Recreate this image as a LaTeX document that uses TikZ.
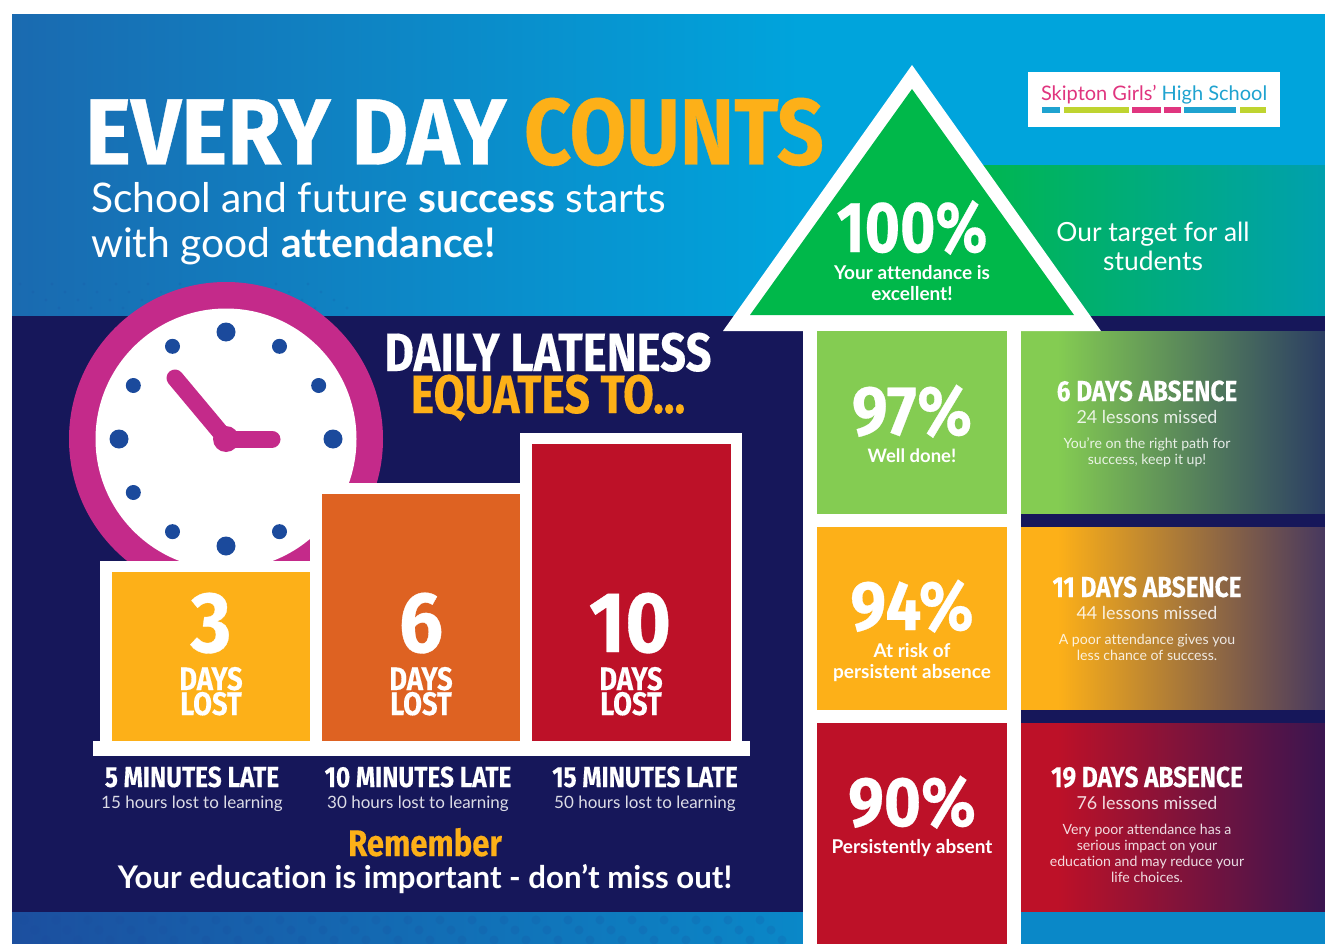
\documentclass[tikz,border=0pt]{standalone}
\usepackage{fontspec}
\setmainfont{Lato}[Ligatures=NoCommon]
\newfontfamily\condf[FakeStretch=0.84,BoldFeatures={FakeBold=0.25}]{Fira Sans}
\newfontfamily\widef[FakeStretch=0.91,BoldFeatures={FakeBold=0.4}]{Fira Sans}
\newcommand\fs[1]{\fontsize{#1}{#1}\selectfont}
\newcommand\cnd[1]{\condf\bfseries\fs{#1}}
\newcommand\wid[1]{\widef\bfseries\fs{#1}}
\definecolor{navy}{HTML}{16175A}
\definecolor{amber}{HTML}{FDB018}
\definecolor{crimson}{HTML}{BD1128}
\definecolor{burnt}{HTML}{DE6222}
\definecolor{lime}{HTML}{84CC52}
\definecolor{gr}{HTML}{00B84A}
\definecolor{pinkc}{HTML}{C42A8A}
\definecolor{dotb}{HTML}{1B4A9C}
\definecolor{skyL}{HTML}{1A6AB0}
\definecolor{skyR}{HTML}{00A4DC}
\definecolor{tealR}{HTML}{00A0AE}
\definecolor{logoP}{HTML}{E0357F}
\definecolor{logoB}{HTML}{1FA3D0}
\definecolor{logoL}{HTML}{BFD430}
\definecolor{endA}{HTML}{2B3D63}
\definecolor{endB}{HTML}{47385F}
\definecolor{endC}{HTML}{3A1550}
\definecolor{botL}{HTML}{1C4F9F}
\definecolor{botR}{HTML}{0A88C8}
\pgfdeclarehorizontalshading{skyshade}{100bp}{color(0bp)=(skyL); color(25bp)=(skyL); color(55bp)=(skyR); color(100bp)=(skyR)}
\pgfdeclarehorizontalshading{panelA}{100bp}{color(0bp)=(lime); color(31bp)=(lime); color(75bp)=(endA); color(100bp)=(endA)}
\pgfdeclarehorizontalshading{panelB}{100bp}{color(0bp)=(amber); color(31bp)=(amber); color(75bp)=(endB); color(100bp)=(endB)}
\pgfdeclarehorizontalshading{panelC}{100bp}{color(0bp)=(crimson); color(31bp)=(crimson); color(75bp)=(endC); color(100bp)=(endC)}
\tikzset{
  x=1pt,y=-1pt,
  txt/.style={inner sep=0pt,outer sep=0pt,anchor=base,text=white},
  txtl/.style={inner sep=0pt,outer sep=0pt,anchor=base west,text=white},
  soft/.style={text opacity=0.85},
  clockdot/.style={fill=dotb,draw=none},
  hand/.style={draw=pinkc,line width=17pt,line cap=round}
}
\begin{document}
\begin{tikzpicture}
\useasboundingbox (0,0) rectangle (1325,944);
% backgrounds
\shade[shading=skyshade] (12,14) rectangle (1325,316);
\foreach \r/\yy in {0/284,1/292,2/300,3/308} \foreach \c in {0,...,9}
  \fill[dotb,opacity=0.15] ({20+\c*32+\r*13},\yy) circle (1.6);
\fill[navy] (12,316) rectangle (1325,912);
\shade[left color=botL,right color=botR] (12,912) rectangle (803,944);
\foreach \r/\yy in {0/920,1/930,2/940} \foreach \c in {0,...,23}
  \fill[dotb,opacity=0.16] ({24+\c*32+\r*11},\yy) circle (4.5);
\fill[botR] (1021,912) rectangle (1325,944);
% green target band
\shade[left color=gr,right color=tealR] (960,166) rectangle (1325,316);
\fill[navy] (960,316) rectangle (1325,331);
% clock
\fill[pinkc] (226,439) circle (157);
\fill[white] (226,439) circle (130.5);
\foreach \a in {0,90,180,270} \fill[clockdot] ({226+107*cos(\a)},{439+107*sin(\a)}) circle (9.5);
\foreach \a in {30,60,120,150,210,240,300,330} \fill[clockdot] ({226+107*cos(\a)},{439+107*sin(\a)}) circle (7.5);
\draw[hand] (226,439) -- (175,378);
\draw[hand] (226,439) -- (272,439);
\fill[pinkc] (226,439) circle (13);
% column frames
\fill[white] (100,561) rectangle (322,755);
\fill[white] (310,483) rectangle (532,755);
\fill[white] (520,433) rectangle (742,755);
\fill[white] (93,741) rectangle (750,755.5);
\fill[amber] (112,572) rectangle (310,741);
\fill[burnt] (322,494) rectangle (520,741);
\fill[crimson] (532,444) rectangle (731,741);
% right panels
\shade[shading=panelA] (1021,331) rectangle (1325,514);
\shade[shading=panelB] (1021,527) rectangle (1325,710);
\shade[shading=panelC] (1021,723) rectangle (1325,912);
\fill[navy] (1021,514) rectangle (1325,527);
\fill[navy] (1021,710) rectangle (1325,723);
\fill[botR] (1021,912) rectangle (1325,944);
% arrow
\fill[white] (912,65) -- (1101,331) -- (723,331) -- cycle;
\fill[white] (803,331) rectangle (1021,944);
\fill[gr] (912,89) -- (1074,315) -- (750,315) -- cycle;
\fill[lime] (817,331) rectangle (1007,514);
\fill[amber] (817,527) rectangle (1007,710);
\fill[crimson] (817,723) rectangle (1007,944);
% page margins
\fill[white] (0,0) rectangle (1325,14);
\fill[white] (0,0) rectangle (12,944);
% logo
\fill[white] (1028,72) rectangle (1280,127);
\node[txtl] (logo) at (1041,100.5) {\fs{20}\textcolor{logoP}{Skipton Girls’} \textcolor{logoB}{High School}};
\fill[logoB] (1041.5,107) rectangle (1060,113.5);
\fill[logoL] (1063.5,107) rectangle (1129,113.5);
\fill[logoP] (1132,107) rectangle (1161,113.5);
\fill[logoP] (1164,107) rectangle (1181,113.5);
\fill[logoB] (1184,107) rectangle (1236,113.5);
\fill[logoL] (1240,107) rectangle (1266,113.5);
% title
\node[txtl] (title) at (85,164.5) {\wid{94}\scalebox{1.025}[1]{EVERY DAY}};
\node[txtl,text=amber] (titleb) at (524,164.5) {\wid{94}\scalebox{0.96}[1]{COUNTS}};
\node[txtl] (sub1) at (91,212.5) {\fs{40.8}School and future \textbf{success} starts};
\node[txtl] (sub2) at (91,257.5) {\fs{40.8}with good \textbf{attendance!}};
% lateness heading
\node[txt] (late1) at (548,371) {\cnd{54}DAILY LATENESS};
\node[txt,text=amber] (late2) at (548,413) {\cnd{54}\scalebox{0.985}[1]{EQUATES TO...}};
% columns
\node[txt] (n3) at (211,652) {\wid{86}3};
\node[txt] (d3) at (211,690) {\cnd{32.5}DAYS};
\node[txt] (l3) at (211,715) {\cnd{32.5}LOST};
\node[txt] (n6) at (421,652) {\wid{86}6};
\node[txt] (d6) at (421,690) {\cnd{32.5}DAYS};
\node[txt] (l6) at (421,715) {\cnd{32.5}LOST};
\node[txt] (n10) at (630,652) {\wid{86}10};
\node[txt] (d10) at (631,690) {\cnd{32.5}DAYS};
\node[txt] (l10) at (631,715) {\cnd{32.5}LOST};
% captions
\node[txt] (c1) at (192,787) {\cnd{29}5 MINUTES LATE};
\node[txt] (c2) at (418,787) {\cnd{29}10 MINUTES LATE};
\node[txt] (c3) at (645,787) {\cnd{29}15 MINUTES LATE};
\node[txt,soft] (h1) at (192,808) {\fs{17}15 hours lost to learning};
\node[txt,soft] (h2) at (418,808) {\fs{17}30 hours lost to learning};
\node[txt,soft] (h3) at (645,808) {\fs{17}50 hours lost to learning};
\node[txt,text=amber] (rem) at (425,856) {\cnd{37}Remember};
\node[txt] (edu) at (425,888) {\fs{31.2}\textbf{Your education is important - don’t miss out!}};
% arrow text
\node[txt] (p100) at (912,252) {\cnd{72}100\%};
\node[txt] (a1) at (912,279) {\fs{19}\textbf{Your attendance is}};
\node[txt] (a2) at (912,300) {\fs{19}\textbf{excellent!}};
\node[txt] (t1) at (1153,241) {\fs{26.4}Our target for all};
\node[txt] (t2) at (1153,270) {\fs{26.4}students};
\node[txt] (p97) at (912,435) {\wid{70}97\%};
\node[txt] (w) at (912,462) {\fs{18.5}\textbf{Well done!}};
\node[txt] (p94) at (912,630) {\wid{70}94\%};
\node[txt] (r1) at (912,657) {\fs{19}\textbf{At risk of}};
\node[txt] (r2) at (912,678) {\fs{19}\textbf{persistent absence}};
\node[txt] (p90) at (912,826) {\wid{70}90\%};
\node[txt] (pa) at (912,853) {\fs{19}\textbf{Persistently absent}};
% right text
\node[txt] (x6) at (1147,401) {\cnd{29}6 DAYS ABSENCE};
\node[txt,soft] (y6) at (1147,423) {\fs{17.9}24 lessons missed};
\node[txt,soft] (z6a) at (1147,448) {\fs{14.1}You’re on the right path for};
\node[txt,soft] (z6b) at (1147,464) {\fs{14.1}success, keep it up!};
\node[txt] (x11) at (1147,597) {\cnd{29}11 DAYS ABSENCE};
\node[txt,soft] (y11) at (1147,619) {\fs{17.9}44 lessons missed};
\node[txt,soft] (z11a) at (1147,644) {\fs{14.1}A poor attendance gives you};
\node[txt,soft] (z11b) at (1147,660) {\fs{14.1}less chance of success.};
\node[txt] (x19) at (1147,787) {\cnd{29}19 DAYS ABSENCE};
\node[txt,soft] (y19) at (1147,809) {\fs{17.9}76 lessons missed};
\node[txt,soft] (z19a) at (1147,834) {\fs{14.1}Very poor attendance has a};
\node[txt,soft] (z19b) at (1147,850) {\fs{14.1}serious impact on your};
\node[txt,soft] (z19c) at (1147,866) {\fs{14.1}education and may reduce your};
\node[txt,soft] (z19d) at (1147,882) {\fs{14.1}life choices.};
\end{tikzpicture}
\end{document}
